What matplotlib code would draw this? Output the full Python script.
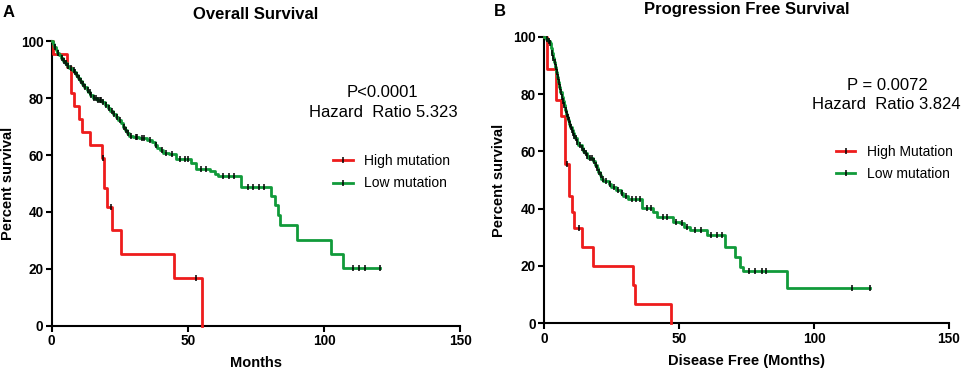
import numpy as np
import matplotlib
matplotlib.use("Agg")
import matplotlib.pyplot as plt
from matplotlib.lines import Line2D

plt.rcParams['font.family'] = ['Liberation Sans', 'DejaVu Sans']

# ---------------- Panel A : Overall Survival ----------------
a_high_t = [0.3, 5.5, 7.0, 8.2, 10.2, 11.1, 14.1, 18.6, 19.3, 20.3, 22.2, 25.5, 44.8, 55.2]
a_high_s = [95.5, 90.9, 81.8, 77.3, 72.7, 68.2, 63.6, 59.0, 48.3, 41.8, 33.6, 25.2, 16.9, 0.0]
a_high_end = 55.2
a_high_cens = [19.0, 21.8, 53.0]

a_low_t = [0.5, 1.0, 1.5, 2.0, 2.7, 3.3, 4.0, 4.8, 5.5, 6.5, 7.5, 8.3, 9.0, 9.7, 10.4,
           11.2, 12.0, 12.8, 13.5, 14.2, 15.0, 16.5, 18.5, 19.5, 20.5, 21.5, 22.5,
           23.5, 24.5, 25.3, 26.0, 26.8, 27.5, 28.5, 30.0, 32.0, 35.0, 37.0, 37.8,
           38.8, 39.8, 41.0, 43.0, 45.8, 51.3, 53.1, 58.0, 59.9, 61.1, 69.6, 80.7,
           81.9, 83.1, 83.7, 90.2, 102.6, 107.1]
a_low_s = [99.0, 98.0, 97.0, 96.0, 95.0, 94.0, 93.0, 92.2, 91.4, 90.6, 89.8, 89.0, 88.0,
           87.0, 86.0, 85.0, 84.0, 83.0, 82.0, 81.0, 80.0, 79.3, 78.5, 77.5, 76.5,
           75.5, 74.4, 73.3, 72.2, 71.1, 70.0, 68.8, 67.6, 66.8, 66.4, 65.8, 65.2,
           64.4, 63.4, 62.5, 61.6, 60.8, 60.2, 58.5, 57.1, 55.1, 54.3, 53.5, 52.6,
           48.8, 45.6, 42.4, 38.9, 35.4, 30.3, 25.2, 20.4]
a_low_end = 120.6
a_low_cens = [1.2, 2.3, 3.6, 4.4, 5.2, 6.0, 7.0, 8.0, 8.6, 9.4, 10.0, 10.8, 11.6, 12.4,
              13.2, 14.0, 14.6, 15.6, 16.2, 17.0, 17.8, 18.2, 19.0, 20.0, 21.0, 22.0,
              23.0, 24.0, 25.0, 26.4, 27.2, 28.0, 29.0, 30.8, 31.5, 33.0, 34.0, 36.0,
              38.3, 40.4, 42.0, 44.0, 47.0, 49.0, 50.0, 55.0, 56.5, 63.0, 65.0, 67.0,
              72.0, 74.0, 76.0, 78.0, 110.8, 112.9, 114.9, 120.6]

# ---------------- Panel B : Progression Free Survival ----------------
b_high_t = [1.2, 4.4, 6.2, 7.9, 9.2, 10.2, 11.2, 13.9, 18.2, 32.8, 33.7, 46.9]
b_high_s = [88.9, 77.8, 72.2, 55.6, 44.4, 38.9, 33.3, 26.7, 20.0, 13.3, 6.7, 0.0]
b_high_end = 46.9
b_high_cens = [8.4, 13.0]

b_low_t = [0.8, 1.5, 2.2, 2.6, 2.9, 3.3, 3.7, 4.1, 4.5, 4.9, 5.3, 5.7, 6.1, 6.5, 6.9,
           7.3, 7.8, 8.2, 8.6, 9.0, 9.4, 9.8, 10.2, 10.6, 11.1, 11.5, 12.1, 12.7, 13.9,
           14.5, 15.2, 15.8, 16.4, 18.3, 18.9, 19.5, 20.1, 20.7, 21.3, 22.0, 24.0,
           25.0, 26.5, 28.5, 29.4, 31.2, 36.2, 40.5, 41.7, 47.9, 50.3, 52.0, 54.0,
           60.2, 67.0, 70.7, 72.5, 73.8, 90.1]
b_low_s = [99.3, 98.5, 97.7, 96.0, 94.2, 92.5, 91.0, 89.5, 87.8, 86.0, 84.3, 82.5, 80.8,
           79.0, 77.5, 76.0, 74.4, 73.2, 72.0, 70.9, 69.7, 68.5, 67.4, 66.4, 65.4,
           64.5, 63.3, 62.2, 61.0, 60.1, 59.3, 58.4, 57.6, 56.5, 55.3, 54.1, 52.9,
           51.7, 50.5, 49.5, 48.6, 47.4, 46.5, 45.6, 44.4, 43.3, 40.1, 38.9, 37.2,
           35.4, 34.9, 33.7, 32.5, 30.8, 26.7, 23.2, 19.7, 18.4, 12.2]
b_low_end = 120.6
b_low_cens = [1.0, 1.8, 2.4, 3.1, 3.5, 3.9, 4.3, 4.7, 5.1, 5.5, 5.9, 6.3, 6.7, 7.1, 7.5,
              8.0, 8.4, 8.8, 9.2, 9.6, 10.0, 10.4, 10.8, 11.3, 11.8, 12.4, 13.2, 14.2,
              14.8, 15.5, 16.1, 17.0, 17.8, 18.6, 19.2, 19.8, 20.4, 21.0, 21.7, 23.0,
              24.5, 25.8, 27.5, 29.0, 30.3, 32.5, 34.0, 35.5, 38.0, 39.5, 44.0, 45.5,
              49.0, 51.0, 53.0, 56.0, 58.0, 62.0, 64.0, 66.0, 76.0, 78.0, 80.6, 82.4,
              114.2, 120.6]

RED = '#ee1c1c'
GREEN = '#119a3a'


def km_arrays(times, surv, end):
    t = [0.0] + list(times) + [end]
    s = [100.0] + list(surv) + [surv[-1]]
    return np.array(t), np.array(s)


def value_at(t, s, x):
    idx = np.searchsorted(t, x, side='right') - 1
    idx = np.clip(idx, 0, len(s) - 1)
    return s[idx]


def draw_curve(ax, times, surv, end, cens, color):
    t, s = km_arrays(times, surv, end)
    ax.step(t, s, where='post', color=color, lw=2.0, clip_on=False, zorder=3)
    c = np.array(cens)
    ax.plot(c, value_at(t, s, c), linestyle='none', marker='|', color='black',
            markersize=3.8, markeredgewidth=1.1, clip_on=False, zorder=4)


def style_axes(ax):
    ax.set_xlim(0, 150)
    ax.set_ylim(0, 100)
    ax.set_xticks([0, 50, 100, 150])
    ax.set_yticks([0, 20, 40, 60, 80, 100])
    for side in ['top', 'right']:
        ax.spines[side].set_visible(False)
    for side in ['left', 'bottom']:
        ax.spines[side].set_linewidth(1.5)
    ax.tick_params(width=1.5, length=4.5, labelsize=9.8, pad=1.5)
    for lab in ax.get_xticklabels() + ax.get_yticklabels():
        lab.set_fontweight('bold')


fig = plt.figure(figsize=(9.65, 3.71), dpi=100)

axA = fig.add_axes([0.0536, 0.122, 0.4232, 0.767])
draw_curve(axA, a_high_t, a_high_s, a_high_end, a_high_cens, RED)
draw_curve(axA, a_low_t, a_low_s, a_low_end, a_low_cens, GREEN)
style_axes(axA)
axA.set_xlabel('Months', fontsize=10.5, fontweight='bold', labelpad=6)
axA.set_ylabel('Percent survival', fontsize=10.5, fontweight='bold', labelpad=4)
axA.set_title('Overall Survival', fontsize=12, fontweight='bold', pad=16)
axA.text(0.811, 0.821, 'P<0.0001', transform=axA.transAxes, ha='center', va='center', fontsize=12)
axA.text(0.811, 0.751, 'Hazard  Ratio 5.323', transform=axA.transAxes, ha='center', va='center', fontsize=12)

axB = fig.add_axes([0.5637, 0.1286, 0.4197, 0.7725])
draw_curve(axB, b_high_t, b_high_s, b_high_end, b_high_cens, RED)
draw_curve(axB, b_low_t, b_low_s, b_low_end, b_low_cens, GREEN)
style_axes(axB)
axB.set_xlabel('Disease Free (Months)', fontsize=10.5, fontweight='bold', labelpad=6)
axB.set_ylabel('Percent survival', fontsize=10.5, fontweight='bold', labelpad=5)
axB.set_title('Progression Free Survival', fontsize=12, fontweight='bold', pad=16)
axB.text(0.847, 0.831, 'P = 0.0072', transform=axB.transAxes, ha='center', va='center', fontsize=12)
axB.text(0.846, 0.765, 'Hazard  Ratio 3.824', transform=axB.transAxes, ha='center', va='center', fontsize=12)


def legend(ax, labels, anchor):
    handles = [Line2D([0], [0], color=RED, lw=2.0, marker='|', markeredgecolor='black',
                      markersize=3.8, markeredgewidth=1.1),
               Line2D([0], [0], color=GREEN, lw=2.0, marker='|', markeredgecolor='black',
                      markersize=3.8, markeredgewidth=1.1)]
    ax.legend(handles, labels, loc='upper left', bbox_to_anchor=anchor, frameon=False,
              fontsize=10, handlelength=1.4, handletextpad=0.8, labelspacing=0.6,
              borderpad=0, borderaxespad=0, numpoints=1, markerfirst=True)


legend(axA, ['High mutation', 'Low mutation'], (0.689, 0.603))
legend(axB, ['High Mutation', 'Low mutation'], (0.721, 0.622))

fig.text(0.003, 0.965, 'A', fontsize=12, fontweight='bold', va='center', ha='left')
fig.text(0.512, 0.968, 'B', fontsize=12, fontweight='bold', va='center', ha='left')

fig.savefig('out.png', dpi=100)
